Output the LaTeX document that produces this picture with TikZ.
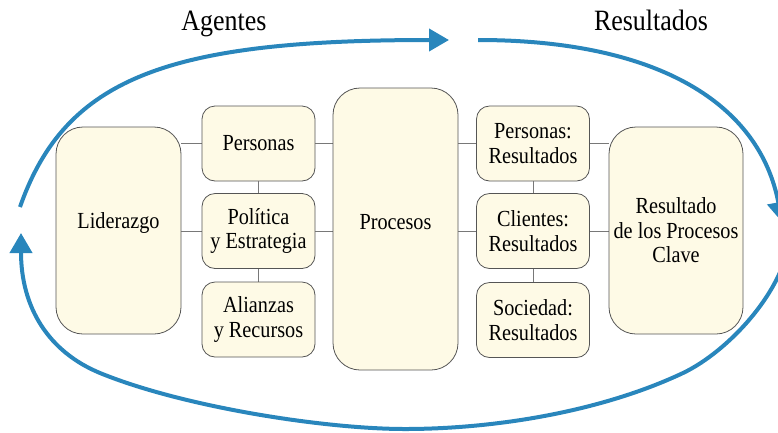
\documentclass[tikz,border=0pt]{standalone}
\usepackage{fontspec}
\setmainfont{Liberation Serif}[FakeStretch=0.88]
\usetikzlibrary{arrows.meta,backgrounds}
\definecolor{boxfill}{RGB}{254,250,230}
\definecolor{boxline}{RGB}{85,85,85}
\definecolor{connc}{RGB}{120,120,120}
\definecolor{cyclec}{RGB}{41,134,188}
\tikzset{
  box/.style={draw=boxline, fill=boxfill, line width=0.8pt, align=center, inner sep=0pt,
    font=\fontsize{23}{24.5}\selectfont},
  bigbox/.style={box, rounded corners=27pt},
  smallbox/.style={box, rounded corners=13pt, minimum width=113pt, minimum height=75pt},
  link/.style={draw=connc, line width=0.8pt},
  cyc/.style={draw=cyclec, line width=4pt, -{Triangle[length=20pt,width=22pt]}},
  ttl/.style={font=\fontsize{29.5}{32}\selectfont, anchor=base, inner sep=0pt},
}
\begin{document}
\begin{tikzpicture}[x=1pt,y=-1pt]
\useasboundingbox (0,0) rectangle (778,432);

\node[ttl] (ag) at (224,30.5) {Agentes};
\node[ttl] (rt) at (651,30.5) {Resultados};

\node[bigbox, minimum width=125pt, minimum height=207pt, text depth=19pt] (lid) at (118.5,230.5) {Liderazgo};
\node[smallbox] (pers) at (258.5,143.5) {Personas};
\node[smallbox] (pol) at (258.5,231) {Política\\y Estrategia};
\node[smallbox] (ali) at (258.5,319.5) {Alianzas\\y Recursos};
\node[bigbox, minimum width=125pt, minimum height=282pt, text depth=15pt] (proc) at (395.5,229) {Procesos};
\node[smallbox] (rp) at (533,143.5) {Personas:\\Resultados};
\node[smallbox] (rc) at (533,231) {Clientes:\\Resultados};
\node[smallbox] (rs) at (533,320) {Sociedad:\\Resultados};
\node[bigbox, minimum width=134pt, minimum height=207pt] (res) at (676,230.5) {Resultado\\de los Procesos\\Clave};

\begin{scope}[on background layer]
\draw[link] (lid.east |- pers.west) -- (pers.west);
\draw[link] (lid.east |- pol.west) -- (pol.west);
\draw[link] (pers.east) -- (proc.west |- pers.east);
\draw[link] (pol.east) -- (proc.west |- pol.east);
\draw[link] (pers.south) -- (pol.north);
\draw[link] (pol.south) -- (ali.north);
\draw[link] (proc.east |- rp.west) -- (rp.west);
\draw[link] (proc.east |- rc.west) -- (rc.west);
\draw[link] (rp.east) -- (res.west |- rp.east);
\draw[link] (rc.east) -- (res.west |- rc.east);
\draw[link] (rp.south) -- (rc.north);
\draw[link] (rc.south) -- (rs.north);
\end{scope}

\coordinate (a1s) at (20,207);
\coordinate (a1e) at (449,40);
\coordinate (a2s) at (478,40);
\coordinate (a2e) at (782,222);
\coordinate (a3s) at (790,235);
\coordinate (a3e) at (21,233);
\draw[cyc] (a1s) .. controls (65.5,77) and (169,40) .. (a1e);
\draw[cyc] (a2s) .. controls (660,40) and (760,105) .. (a2e);
\draw[cyc] (a3s) .. controls (786,290) and (728,351.6) .. (683,373)
  .. controls (601.6,411.5) and (495,429) .. (405,429)
  .. controls (325,429) and (183,407) .. (100,373)
  .. controls (49,352) and (21,308) .. (a3e);
\end{tikzpicture}
\end{document}
